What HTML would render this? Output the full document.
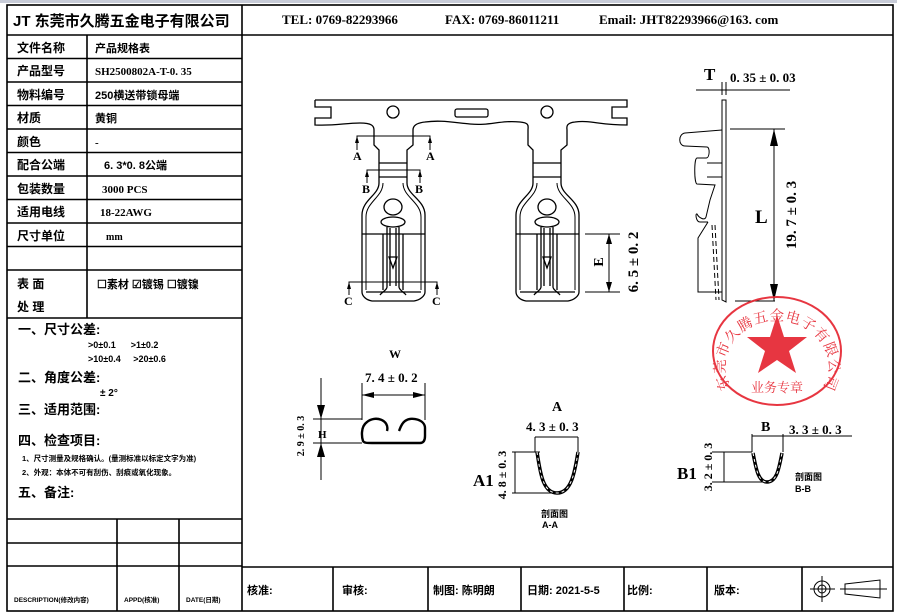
<!DOCTYPE html>
<html><head><meta charset="utf-8"><style>
html,body{margin:0;padding:0;background:#fff;}
svg{display:block;}
text{font-family:"Liberation Serif","Noto Serif CJK SC",serif;font-weight:bold;fill:#000;}
.c{font-family:"Liberation Sans","Noto Sans CJK SC",sans-serif;font-weight:bold;}
</style></head><body>
<svg width="897" height="613" viewBox="0 0 897 613" xmlns="http://www.w3.org/2000/svg">
<rect x="0" y="0" width="897" height="3" fill="#c8ccd8"/>
<g stroke="#000" fill="none" stroke-width="1.6">
<rect x="7" y="5" width="886" height="606"/>
<line x1="242" y1="5" x2="242" y2="611"/>
<line x1="7" y1="35" x2="893" y2="35"/>
<line x1="7" y1="58.5" x2="242" y2="58.5"/><line x1="7" y1="82" x2="242" y2="82"/>
<line x1="7" y1="105.5" x2="242" y2="105.5"/><line x1="7" y1="129" x2="242" y2="129"/>
<line x1="7" y1="152.5" x2="242" y2="152.5"/><line x1="7" y1="176" x2="242" y2="176"/>
<line x1="7" y1="199.5" x2="242" y2="199.5"/><line x1="7" y1="223" x2="242" y2="223"/>
<line x1="7" y1="246.5" x2="242" y2="246.5"/><line x1="7" y1="270" x2="242" y2="270"/>
<line x1="7" y1="318" x2="242" y2="318"/>
<line x1="87" y1="35" x2="87" y2="318"/>
<line x1="7" y1="519" x2="242" y2="519"/><line x1="7" y1="543" x2="242" y2="543"/>
<line x1="7" y1="566" x2="242" y2="566"/>
<line x1="117" y1="519" x2="117" y2="611"/><line x1="179" y1="519" x2="179" y2="611"/>
<line x1="242" y1="567" x2="893" y2="567"/>
<line x1="333" y1="567" x2="333" y2="611"/><line x1="428" y1="567" x2="428" y2="611"/>
<line x1="521" y1="567" x2="521" y2="611"/><line x1="624" y1="567" x2="624" y2="611"/>
<line x1="707" y1="567" x2="707" y2="611"/><line x1="802" y1="567" x2="802" y2="611"/>
</g>
<g stroke="#000" fill="none" stroke-width="1">
<circle cx="822" cy="589" r="8"/><circle cx="822" cy="589" r="4"/>
<line x1="810" y1="589" x2="835" y2="589"/><line x1="822" y1="576" x2="822" y2="602"/>
<path d="M845,584 L880,580 V598 L845,594 Z"/><line x1="840" y1="589" x2="887" y2="589"/>
</g>
<text x="13" y="26" font-size="15" class="c">JT 东莞市久腾五金电子有限公司</text>
<text x="282" y="24" font-size="13">TEL: 0769-82293966</text>
<text x="445" y="24" font-size="13">FAX: 0769-86011211</text>
<text x="599" y="24" font-size="13">Email: JHT82293966@163. com</text>
<g font-size="12" class="c">
<text x="17" y="52" class="c">文件名称</text><text x="95" y="52" class="c" font-size="11">产品规格表</text>
<text x="17" y="75" class="c">产品型号</text><text x="95" y="75" font-size="11">SH2500802A-T-0. 35</text>
<text x="17" y="99" class="c">物料编号</text><text x="95" y="99" class="c" font-size="11">250横送带锁母端</text>
<text x="17" y="122" class="c">材质</text><text x="95" y="122" class="c" font-size="11">黄铜</text>
<text x="17" y="146" class="c">颜色</text><text x="95" y="146" font-size="11">-</text>
<text x="17" y="169" class="c">配合公端</text><text x="104" y="169" class="c" font-size="11">6. 3*0. 8公端</text>
<text x="17" y="193" class="c">包装数量</text><text x="102" y="193" font-size="11">3000 PCS</text>
<text x="17" y="216" class="c">适用电线</text><text x="100" y="216" font-size="11">18-22AWG</text>
<text x="17" y="240" class="c">尺寸单位</text><text x="106" y="240" font-size="10">mm</text>
<text x="17" y="288" class="c">表 面</text><text x="97" y="288" class="c" font-size="11">☐素材 ☑镀锡 ☐镀镍</text>
<text x="17" y="311" class="c">处 理</text>
</g>
<g class="c">
<text x="18" y="334" font-size="13" class="c">一、尺寸公差:</text>
<text x="88" y="348" font-size="9" class="c">&gt;0±0.1&#160;&#160;&#160;&#160;&#160;&#160;&gt;1±0.2</text>
<text x="88" y="362" font-size="9" class="c">&gt;10±0.4&#160;&#160;&#160;&#160;&#160;&gt;20±0.6</text>
<text x="18" y="382" font-size="13" class="c">二、角度公差:</text>
<text x="100" y="396" font-size="10" class="c">± 2°</text>
<text x="18" y="414" font-size="13" class="c">三、适用范围:</text>
<text x="18" y="445" font-size="13" class="c">四、检查项目:</text>
<text x="22" y="461" font-size="7.5" class="c">1、尺寸测量及规格确认。(量测标准以标定文字为准)</text>
<text x="22" y="475" font-size="7.5" class="c">2、外观：本体不可有刮伤、刮痕或氧化现象。</text>
<text x="18" y="497" font-size="13" class="c">五、备注:</text>
<text x="14" y="602" font-size="6.5" class="c">DESCRIPTION(修改内容)</text>
<text x="124" y="602" font-size="6.5" class="c">APPD(核准)</text>
<text x="186" y="602" font-size="6.5" class="c">DATE(日期)</text>
<text x="247" y="594" font-size="11" class="c">核准:</text>
<text x="342" y="594" font-size="11" class="c">审核:</text>
<text x="433" y="594" font-size="11" class="c">制图: 陈明朗</text>
<text x="527" y="594" font-size="11" class="c">日期: 2021-5-5</text>
<text x="627" y="594" font-size="11" class="c">比例:</text>
<text x="714" y="594" font-size="11" class="c">版本:</text>
</g>
<defs>
<g id="term" stroke="#000" fill="none" stroke-width="1.3">
<path d="M374,130 V145 L379,150 V183 C379,195 362,200 362,215 V292 C362,296 366,300 372,301 H414 C420,300 425,296 425,292 V215 C425,200 407,195 407,183 V150 L413,145 V130"/>
<path d="M383,183 C383,197 366,202 366,217 V290 M403,183 C403,197 421,202 421,217 V290" stroke-width="1"/>
<line x1="362" y1="234" x2="425" y2="234"/><line x1="366" y1="292" x2="421" y2="292"/>
<line x1="379" y1="163" x2="407" y2="163"/><line x1="379" y1="177" x2="407" y2="177"/>
<line x1="383" y1="234" x2="383" y2="290"/><line x1="403" y1="234" x2="403" y2="290"/>
<ellipse cx="393" cy="207" rx="9" ry="8"/>
<ellipse cx="393" cy="222" rx="12" ry="5"/>
<path d="M387,227 V287 C387,290 382,292 380,295 M399,227 V287 C399,290 404,292 406,295 M390,228 V286 M396,228 V286"/>
<path d="M389,257 L393,268 L397,257 Z"/>
</g>
</defs>
<path d="M315,100 H627 V107 H612 V118 H627 V125 C600,125 590,120 575,122 C565,123 567,128 567,130 M528,130 C528,126 530,123 520,122 C500,120 490,126 470,124 C450,122 440,120 425,122 C415,123 413,127 413,130 M374,130 C374,126 372,123 360,123 C345,123 335,126 315,125 V118 H331 V107 H315 V100" stroke="#000" fill="none" stroke-width="1.3"/>
<circle cx="393" cy="112" r="6" stroke="#000" fill="none" stroke-width="1.3"/>
<circle cx="547" cy="112" r="6" stroke="#000" fill="none" stroke-width="1.3"/>
<rect x="455" y="109" width="33" height="8" rx="2" stroke="#000" fill="none" stroke-width="1.3"/>
<use href="#term"/>
<use href="#term" transform="translate(154,0)"/>
<g stroke="#000" stroke-width="1" fill="none">
<polyline points="357,150 357,136 430,136 430,150"/>
<polyline points="367,183 367,170 420,170 420,183"/>
<polyline points="349,295 349,282 437,282 437,295"/>
</g>
<g fill="#000">
<path d="M355,143 L357,136 L359,143Z"/><path d="M428,143 L430,136 L432,143Z"/>
<path d="M365,177 L367,170 L369,177Z"/><path d="M418,177 L420,170 L422,177Z"/>
<path d="M347,289 L349,282 L351,289Z"/><path d="M435,289 L437,282 L439,289Z"/>
</g>
<g font-size="12">
<text x="353" y="160">A</text><text x="426" y="160">A</text>
<text x="362" y="193">B</text><text x="415" y="193">B</text>
<text x="344" y="305">C</text><text x="432" y="305">C</text>
</g>
<g stroke="#000" stroke-width="1" fill="none">
<line x1="585" y1="234" x2="620" y2="234"/><line x1="585" y1="292" x2="620" y2="292"/>
<line x1="609" y1="234" x2="609" y2="292"/>
</g>
<path d="M606,244 L609,234 L612,244Z M606,282 L609,292 L612,282Z" fill="#000"/>
<text transform="translate(603,262) rotate(-90)" font-size="14" text-anchor="middle">E</text>
<text transform="translate(638,262) rotate(-90)" font-size="15" text-anchor="middle">6. 5 ± 0. 2</text>
<text x="704" y="80" font-size="17">T</text>
<text x="730" y="82" font-size="13">0. 35 ± 0. 03</text>
<g stroke="#000" stroke-width="1" fill="none">
<line x1="696" y1="90" x2="790" y2="90"/>
<line x1="722" y1="82" x2="722" y2="95"/><line x1="726" y1="82" x2="726" y2="95"/>
<path d="M722,100 V300 L726,302 V100 Z"/>
<path d="M722,130 L685,133 C678,134 678,146 685,146 L707,147 C710,147 710,158 706,158 L697,158 C694,158 694,183 697,184 L715,185 L710,200 L706,217 C705,221 699,218 697,214 C695,213 696,222 700,222 L708,222"/>
<line x1="707" y1="163" x2="722" y2="163"/><line x1="707" y1="177" x2="722" y2="177"/>
<path d="M708,222 L698,238 V292 L722,292"/>
<path d="M712,225 L716,300 M715,225 L719,300" stroke-dasharray="5,3"/>
<line x1="730" y1="129" x2="785" y2="129"/><line x1="735" y1="301" x2="775" y2="301"/>
<line x1="774" y1="129" x2="774" y2="301"/>
</g>
<path d="M770,146 L774,129 L778,146Z M770,284 L774,301 L778,284Z" fill="#000"/>
<text x="755" y="223" font-size="19">L</text>
<text transform="translate(796,215) rotate(-90)" font-size="15" text-anchor="middle">19. 7 ± 0. 3</text>
<text x="389" y="358" font-size="12">W</text>
<text x="365" y="382" font-size="13">7. 4 ± 0. 2</text>
<g stroke="#000" stroke-width="1" fill="none">
<line x1="362" y1="383" x2="362" y2="420"/><line x1="425" y1="383" x2="425" y2="420"/>
<line x1="362" y1="395" x2="425" y2="395"/>
<line x1="313" y1="419" x2="362" y2="419"/><line x1="313" y1="443" x2="362" y2="443"/>
<line x1="321" y1="378" x2="321" y2="480"/>
<path d="M387,431 C390,420 375,415 367,422 C360,427 362,438 363,441 C364,443 367,443 372,443 H420 C424,443 425,440 425,436 V428 C425,420 412,416 405,421 C401,424 400,429 399,431" stroke-width="2.4"/>
</g>
<path d="M362,395 L374,392 V398Z M425,395 L413,392 V398Z" fill="#000"/>
<path d="M317,405 L321,419 L325,405Z M317,457 L321,443 L325,457Z" fill="#000"/>
<text x="318" y="438" font-size="11">H</text>
<text transform="translate(304,436) rotate(-90)" font-size="10" text-anchor="middle">2. 9 ± 0. 3</text>
<text x="552" y="411" font-size="14">A</text>
<text x="526" y="431" font-size="13">4. 3 ± 0. 3</text>
<g stroke="#000" stroke-width="1" fill="none">
<line x1="535" y1="437" x2="578" y2="437"/>
<line x1="535" y1="437" x2="535" y2="452"/><line x1="578" y1="437" x2="578" y2="452"/>
<line x1="512" y1="452" x2="540" y2="452"/><line x1="512" y1="493" x2="557" y2="493"/>
<line x1="515" y1="452" x2="515" y2="493"/>
<path d="M537,452 C540,470 542,493 557,493 C572,493 575,470 578,452" stroke-width="3.5"/>
<path d="M537,452 C540,470 542,493 557,493 C572,493 575,470 578,452" stroke="#fff" stroke-width="1" stroke-dasharray="3,3"/>
</g>
<text x="473" y="486" font-size="17">A1</text>
<text transform="translate(506,475) rotate(-90)" font-size="12" text-anchor="middle">4. 8 ± 0. 3</text>
<text x="541" y="517" font-size="9" class="c">剖面图</text>
<text x="542" y="528" font-size="9" class="c">A-A</text>
<text x="761" y="431" font-size="14">B</text>
<text x="789" y="434" font-size="13">3. 3 ± 0. 3</text>
<g stroke="#000" stroke-width="1" fill="none">
<line x1="752" y1="436" x2="852" y2="436"/>
<line x1="752" y1="434" x2="752" y2="452"/><line x1="783" y1="434" x2="783" y2="452"/>
<line x1="712" y1="452" x2="752" y2="452"/><line x1="712" y1="482" x2="767" y2="482"/>
<line x1="724" y1="452" x2="724" y2="482"/>
<path d="M753,453 C756,468 758,482 767,482 C777,482 779,468 782,453" stroke-width="3.5"/>
<path d="M753,453 C756,468 758,482 767,482 C777,482 779,468 782,453" stroke="#fff" stroke-width="1" stroke-dasharray="3,3"/>
</g>
<text x="677" y="479" font-size="17">B1</text>
<text transform="translate(712,467) rotate(-90)" font-size="12" text-anchor="middle">3. 2 ± 0. 3</text>
<text x="795" y="480" font-size="9" class="c">剖面图</text>
<text x="795" y="492" font-size="9" class="c">B-B</text>
<g opacity="0.92">
<ellipse cx="777" cy="351" rx="64" ry="54" stroke="#e62531" stroke-width="2" fill="none"/>
<path d="M777,315 L784,337 L807,337 L789,351 L796,373 L777,360 L758,373 L765,351 L747,337 L770,337 Z" fill="#e62531"/>
<path id="arc" d="M731,388 A52,46 0 1 1 823,388" fill="none"/>
<text font-size="14.5" letter-spacing="0.8" style="fill:#e62531;font-family:'Noto Serif CJK SC',serif;font-weight:normal"><textPath href="#arc">东莞市久腾五金电子有限公司</textPath></text>
<text x="777" y="392" font-size="13" text-anchor="middle" style="fill:#e62531;font-family:'Noto Serif CJK SC',serif;font-weight:normal">业务专章</text>
</g>
</svg>
</body></html>
